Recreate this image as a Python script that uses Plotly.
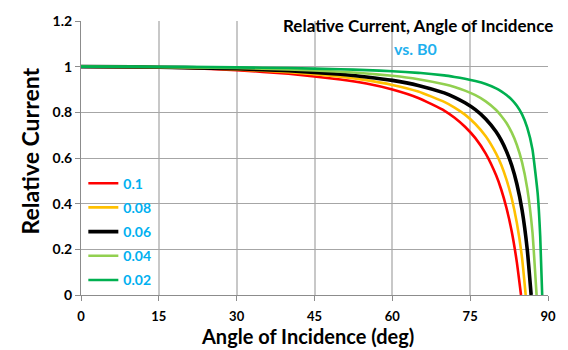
import plotly.graph_objects as go

# Angle of incidence (deg) and relative current, one list per B0 value
b0_labels = ["0.1", "0.08", "0.06", "0.04", "0.02"]
colors = ["#FF0000", "#FFC000", "#000000", "#92D050", "#00B050"]
widths = [2.6, 2.6, 3.6, 2.6, 2.6]

ang_01 = [0, 10, 20, 30, 40, 50, 55, 60, 65, 70, 72, 74, 76, 78, 80, 81, 82, 83, 84, 84.8]
val_01 = [1.0, 0.998, 0.994, 0.985, 0.969, 0.944, 0.926, 0.900, 0.863, 0.808, 0.776, 0.737,
          0.687, 0.619, 0.524, 0.461, 0.381, 0.279, 0.143, 0.0]

ang_008 = [0, 10, 20, 30, 40, 50, 55, 60, 65, 70, 72, 74, 76, 78, 80, 81, 82, 83, 84, 85, 85.7]
val_008 = [1.0, 0.999, 0.995, 0.988, 0.976, 0.956, 0.941, 0.920, 0.891, 0.846, 0.821, 0.790,
           0.749, 0.695, 0.619, 0.569, 0.505, 0.424, 0.315, 0.162, 0.0]

ang_006 = [0, 10, 20, 30, 40, 50, 55, 60, 65, 70, 72, 74, 76, 78, 80, 81, 82, 83, 84, 85, 86, 86.75]
val_006 = [1.0, 0.999, 0.996, 0.991, 0.982, 0.967, 0.955, 0.940, 0.918, 0.885, 0.866, 0.842,
           0.812, 0.771, 0.715, 0.677, 0.629, 0.568, 0.486, 0.372, 0.200, 0.0]

ang_004 = [0, 10, 20, 30, 40, 50, 55, 60, 65, 70, 72, 74, 76, 78, 80, 81, 82, 83, 84, 85, 86, 87, 87.8]
val_004 = [1.0, 0.999, 0.997, 0.994, 0.988, 0.978, 0.970, 0.960, 0.945, 0.923, 0.911, 0.895,
           0.875, 0.848, 0.810, 0.784, 0.753, 0.712, 0.657, 0.581, 0.467, 0.276, 0.0]

ang_002 = [0, 10, 20, 30, 40, 50, 55, 60, 65, 70, 72, 74, 76, 78, 80, 81, 82, 83, 84, 85, 86, 87,
           88, 88.5, 88.88]
val_002 = [1.0, 1.0, 0.999, 0.997, 0.994, 0.989, 0.985, 0.980, 0.973, 0.962, 0.955, 0.947,
           0.937, 0.924, 0.905, 0.892, 0.876, 0.856, 0.829, 0.791, 0.733, 0.638, 0.447, 0.256, 0.0]

angles = [ang_01, ang_008, ang_006, ang_004, ang_002]
values = [val_01, val_008, val_006, val_004, val_002]

x_ticks = [0, 15, 30, 45, 60, 75, 90]
y_ticks = [0, 0.2, 0.4, 0.6, 0.8, 1.0, 1.2]

FONT = "Lato"

fig = go.Figure()
for lab, c, w, xs, ys in zip(b0_labels, colors, widths, angles, values):
    fig.add_trace(go.Scatter(x=xs, y=ys, mode="lines", name=lab, legendgroup=lab,
                             line=dict(color=c, width=w, shape="spline", smoothing=0.4)))

fig.update_layout(
    width=568, height=350,
    margin=dict(l=81, r=17, t=17, b=55),
    paper_bgcolor="white", plot_bgcolor="white",
    font=dict(family=FONT, color="black"),
    showlegend=True,
    legend=dict(x=0.005, y=0.465, xanchor="left", yanchor="top",
                bgcolor="rgba(0,0,0,0)", itemwidth=30,
                font=dict(family=FONT, size=14, color="#00B0F0", weight="bold"),
                tracegroupgap=3),
    xaxis=dict(range=[0, 90], tickvals=x_ticks, showgrid=True, gridcolor="#C8C8C8", gridwidth=1.5,
               showline=True, linecolor="#8C8C8C", linewidth=1, ticks="outside", ticklen=5,
               tickcolor="#8C8C8C", zeroline=False, ticklabelstandoff=4,
               tickfont=dict(family=FONT, size=13, color="black", weight="bold")),
    yaxis=dict(range=[0, 1.2], tickvals=y_ticks, showgrid=True, gridcolor="#A6A6A6", gridwidth=1,
               showline=True, linecolor="#8C8C8C", linewidth=1, ticks="outside", ticklen=5,
               tickcolor="#8C8C8C", zeroline=False,
               tickfont=dict(family=FONT, size=14, color="black", weight="bold")),
    shapes=[dict(type="rect", xref="paper", yref="paper", x0=0.40, x1=1.03, y0=0.855, y1=1.07,
                 fillcolor="white", line=dict(width=0), layer="between")],
    annotations=[
        dict(text="Relative Current, Angle of Incidence", xref="paper", yref="paper",
             x=1.016, y=0.985, xanchor="right", yanchor="middle", showarrow=False,
             font=dict(family=FONT, size=17, color="black", weight="bold")),
        dict(text="vs. B0", xref="paper", yref="paper",
             x=0.717, y=0.899, xanchor="center", yanchor="middle", showarrow=False,
             font=dict(family=FONT, size=16, color="#1FB0EE", weight="bold")),
        dict(text="Angle of Incidence (deg)", xref="paper", yref="paper",
             x=(309 - 81) / 470, y=-(337 - 295) / 278, xanchor="center", yanchor="middle",
             showarrow=False,
             font=dict(family=FONT, size=20, color="black", weight="bold")),
        dict(text="Relative Current", xref="paper", yref="paper", textangle=-90,
             x=-(81 - 30) / 470, y=(295 - 149) / 278, xanchor="center", yanchor="middle",
             showarrow=False,
             font=dict(family=FONT, size=23, color="black", weight="bold")),
    ],
)

fig.write_html("out.html")
